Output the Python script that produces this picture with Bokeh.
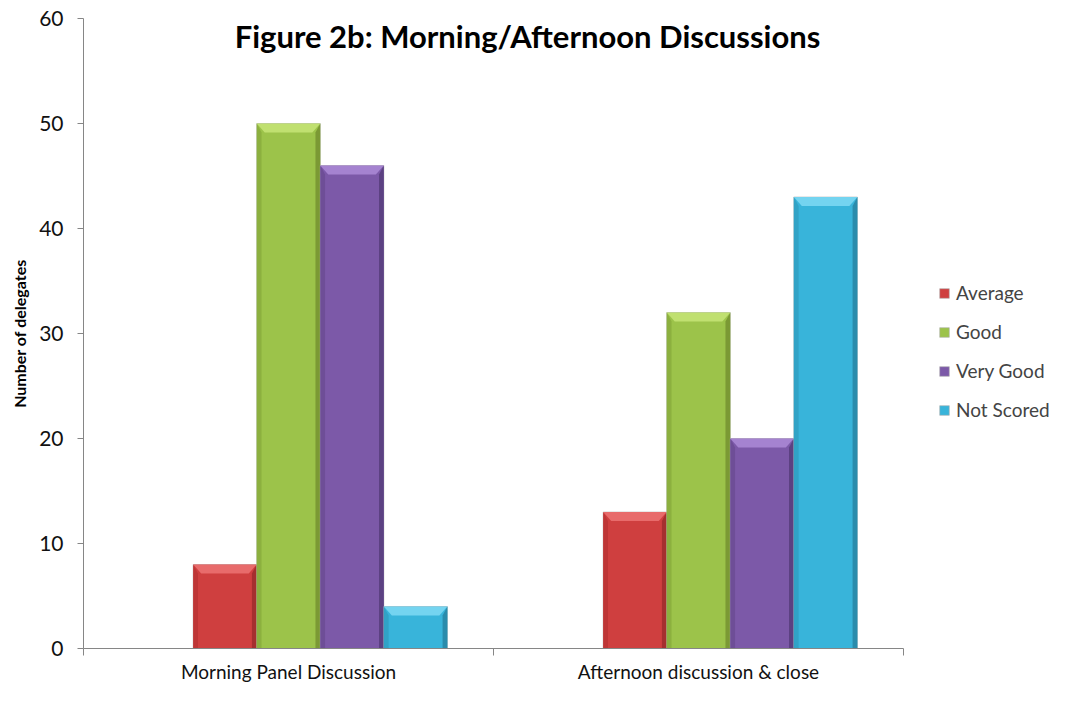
from bokeh.plotting import figure
from bokeh.models import (ColumnDataSource, Range1d, FixedTicker, Label, Legend,
                          LegendItem)
from bokeh.transform import dodge
from bokeh.embed import file_html
from bokeh.resources import INLINE

# ---- data ----
categories = ["Morning Panel Discussion", "Afternoon discussion & close"]
series_names = ["Average", "Good", "Very Good", "Not Scored"]
average = [8, 13]
good = [50, 32]
very_good = [46, 20]
not_scored = [4, 43]
y_ticks = [0, 10, 20, 30, 40, 50, 60]
title_text = "Figure 2b: Morning/Afternoon Discussions"
y_label = "Number of delegates"

# ---- style ----
FONT = "Lato"
body_colors = ["#CF3F3F", "#9CC34A", "#7C59A8", "#38B4DA"]
top_colors = ["#E86B6B", "#C0E070", "#A583D0", "#74D4F0"]
right_colors = ["#A52F2F", "#7B9934", "#5C4182", "#2A8CAC"]
left_colors = ["#BE3636", "#8CB03F", "#6E4E97", "#31A3C6"]
axis_color = "#868686"

W, H = 1051, 686
frame_left, frame_top, frame_bottom = 83, 18, 38
frame_w = W - frame_left
px_per_cat = 410.0
x_end = frame_w / px_per_cat
frame_h = H - frame_top - frame_bottom

bar_w = 0.155
offsets = [-bar_w, 0.0, bar_w, 2 * bar_w]
series = [average, good, very_good, not_scored]

cat_x = [i + 0.5 for i in range(len(categories))]
src = ColumnDataSource(dict(cat_x=cat_x, s0=average, s1=good, s2=very_good, s3=not_scored))

p = figure(width=W, height=H, output_backend="svg", toolbar_location=None,
           x_range=Range1d(0, x_end), y_range=Range1d(0, 60),
           min_border_left=frame_left, min_border_right=0,
           min_border_top=frame_top, min_border_bottom=frame_bottom)
p.outline_line_color = None
p.xgrid.visible = False
p.ygrid.visible = False
p.background_fill_color = "white"
p.border_fill_color = "white"

# bevel sizes in data units
bx = 8 / px_per_cat
by = 9 * 60 / frame_h

renderers = []
for s, vals in enumerate(series):
    r = p.vbar(x=dodge("cat_x", offsets[s]), top=f"s{s}", bottom=0, width=bar_w,
               source=src, fill_color=body_colors[s], line_color="#B0B0B0",
               line_alpha=0.6, line_width=1)
    renderers.append(r)
    top_xs, top_ys, r_xs, r_ys, l_xs, l_ys = [], [], [], [], [], []
    for c, v in enumerate(vals):
        xc = cat_x[c] + offsets[s]
        x0, x1 = xc - bar_w / 2, xc + bar_w / 2
        top_xs.append([x0, x1, x1 - bx, x0 + bx])
        top_ys.append([v, v, v - by, v - by])
        r_xs.append([x1, x1, x1 - bx * 0.6, x1 - bx * 0.6])
        r_ys.append([v, 0, 0, v - by])
        l_xs.append([x0, x0 + bx * 0.6, x0 + bx * 0.6, x0])
        l_ys.append([v, v - by, 0, 0])
    p.patches(l_xs, l_ys, fill_color=left_colors[s], line_color=None)
    p.patches(r_xs, r_ys, fill_color=right_colors[s], line_color=None)
    p.patches(top_xs, top_ys, fill_color=top_colors[s], line_color=None)

# axes
xa = p.xaxis[0]
xa.ticker = FixedTicker(ticks=cat_x, minor_ticks=list(range(len(categories) + 1)))
xa.major_label_overrides = {cx: c for cx, c in zip(cat_x, categories)}
xa.bounds = (0, len(categories))
xa.axis_line_color = axis_color
xa.major_tick_line_color = None
xa.major_tick_out = 0
xa.major_tick_in = 0
xa.minor_tick_line_color = axis_color
xa.minor_tick_out = 7
xa.minor_tick_in = 0
xa.major_label_standoff = 4
xa.major_label_text_font = FONT
xa.major_label_text_font_size = "19px"
xa.major_label_text_color = "#111111"

ya = p.yaxis[0]
ya.ticker = FixedTicker(ticks=y_ticks, minor_ticks=[])
ya.axis_line_color = axis_color
ya.major_tick_line_color = axis_color
ya.major_tick_out = 6
ya.major_tick_in = 0
ya.major_label_standoff = 14
ya.major_label_text_font = FONT
ya.major_label_text_font_size = "21px"
ya.major_label_text_color = "#111111"
ya.axis_label = y_label
ya.axis_label_text_font = FONT
ya.axis_label_text_font_style = "bold"
ya.axis_label_text_font_size = "16px"
ya.axis_label_text_color = "#000000"
ya.axis_label_standoff = 7

# title
p.add_layout(Label(x=(527 - frame_left) / px_per_cat, y=60 - (35 - frame_top) * 60 / frame_h,
                   text=title_text, text_align="center",
                   text_baseline="middle", text_font=FONT,
                   text_font_style="bold", text_font_size="31px",
                   text_color="#000000"))

# legend
legend = Legend(items=[LegendItem(label=n, renderers=[r]) for n, r in zip(series_names, renderers)],
                location=(855, 227), padding=0, margin=0, spacing=16,
                glyph_width=12, glyph_height=12, label_standoff=6, label_height=20,
                label_text_font=FONT, label_text_font_size="19px",
                border_line_color=None, background_fill_alpha=0)
p.add_layout(legend)

open("out.html", "w").write(file_html(p, INLINE))
